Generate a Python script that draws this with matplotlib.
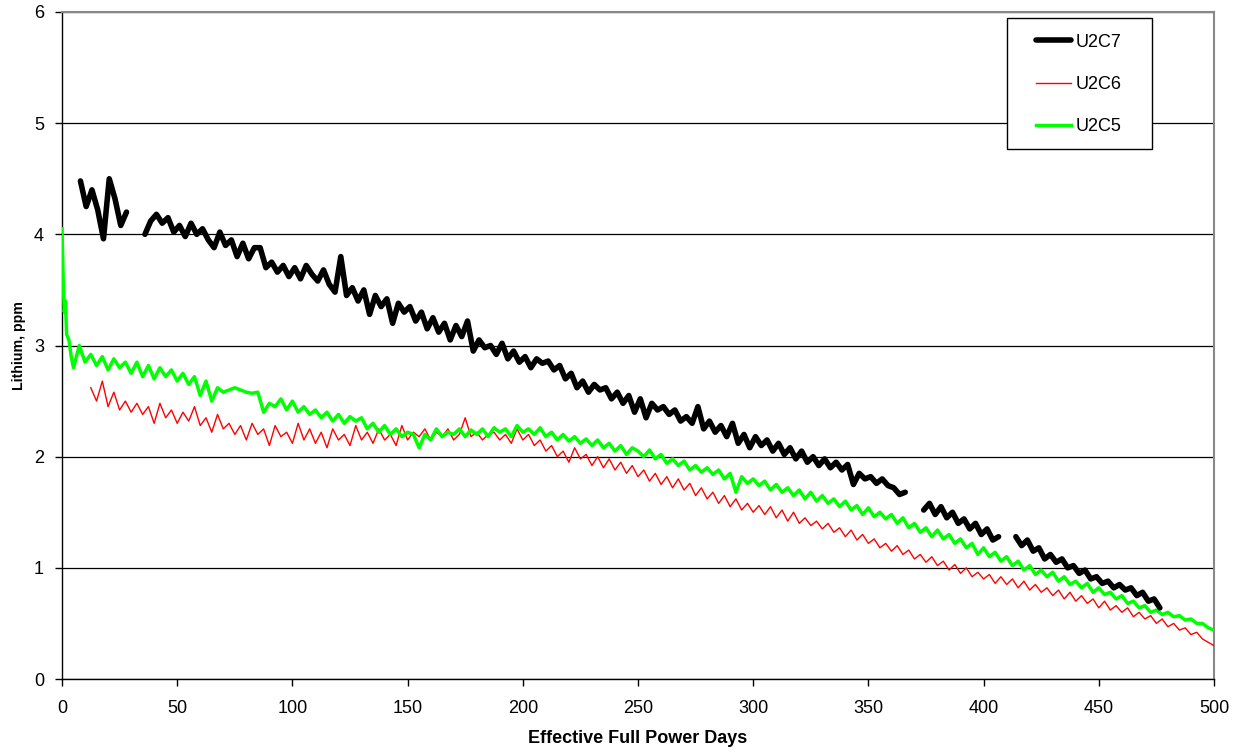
import numpy as np
import matplotlib
matplotlib.use("Agg")
import matplotlib.pyplot as plt
from matplotlib.lines import Line2D
from matplotlib.patches import Rectangle

plt.rcParams['font.family'] = ['Liberation Sans', 'DejaVu Sans']

# ---------------- data (Lithium, ppm vs EFPD) ----------------
STEP = 2.5

# U2C7 (four separate segments)
u2c7_seg1_start = 8.0
u2c7_seg1 = [4.48, 4.25, 4.40, 4.22, 3.96, 4.50, 4.32, 4.08, 4.20]

u2c7_seg2_start = 36.0
u2c7_seg2 = [
    4.00, 4.12, 4.18, 4.10, 4.15, 4.02, 4.08, 3.98, 4.10, 4.00,
    4.05, 3.95, 3.88, 4.02, 3.90, 3.95, 3.80, 3.92, 3.78, 3.88,
    3.88, 3.70, 3.75, 3.66, 3.72, 3.62, 3.70, 3.60, 3.72, 3.64,
    3.58, 3.68, 3.55, 3.48, 3.80, 3.45, 3.52, 3.40, 3.50, 3.28,
    3.45, 3.35, 3.42, 3.20, 3.38, 3.30, 3.35, 3.22, 3.30, 3.15,
    3.25, 3.12, 3.20, 3.05, 3.18, 3.08, 3.22, 2.95, 3.05, 2.98,
    3.00, 2.92, 3.02, 2.88, 2.95, 2.85, 2.90, 2.80, 2.88, 2.84,
    2.86, 2.78, 2.82, 2.70, 2.75, 2.62, 2.68, 2.58, 2.65, 2.60,
    2.62, 2.52, 2.58, 2.48, 2.55, 2.40, 2.52, 2.35, 2.48, 2.42,
    2.45, 2.38, 2.42, 2.32, 2.36, 2.30, 2.45, 2.25, 2.32, 2.22,
    2.28, 2.18, 2.30, 2.12, 2.20, 2.08, 2.18, 2.10, 2.15, 2.05,
    2.12, 2.02, 2.08, 1.98, 2.05, 1.95, 2.00, 1.92, 1.98, 1.90,
    1.95, 1.88, 1.93, 1.75, 1.85, 1.80, 1.82, 1.76, 1.80, 1.74,
    1.72, 1.66, 1.68,
]

u2c7_seg3_start = 374.0
u2c7_seg3 = [1.52, 1.58, 1.48, 1.55, 1.45, 1.50, 1.40, 1.44, 1.35, 1.40,
             1.30, 1.35, 1.25, 1.28]

u2c7_seg4_start = 414.0
u2c7_seg4 = [1.28, 1.20, 1.25, 1.15, 1.18, 1.08, 1.12, 1.05, 1.08, 1.00,
             1.02, 0.95, 0.98, 0.90, 0.92, 0.86, 0.88, 0.82, 0.85, 0.80,
             0.82, 0.75, 0.78, 0.70, 0.72, 0.64]

# U2C6
u2c6_start = 12.5
u2c6 = [
    2.62, 2.50, 2.68, 2.45, 2.58, 2.42, 2.50, 2.40, 2.48, 2.38,
    2.45, 2.30, 2.48, 2.35, 2.42, 2.30, 2.40, 2.32, 2.45, 2.28,
    2.35, 2.22, 2.38, 2.25, 2.30, 2.20, 2.28, 2.15, 2.30, 2.20,
    2.25, 2.10, 2.28, 2.18, 2.22, 2.12, 2.30, 2.15, 2.25, 2.12,
    2.22, 2.08, 2.25, 2.15, 2.20, 2.10, 2.28, 2.15, 2.22, 2.12,
    2.25, 2.15, 2.20, 2.10, 2.28, 2.15, 2.22, 2.18, 2.25, 2.15,
    2.22, 2.18, 2.25, 2.15, 2.20, 2.35, 2.18, 2.22, 2.15, 2.20,
    2.22, 2.15, 2.20, 2.12, 2.25, 2.15, 2.20, 2.10, 2.15, 2.05,
    2.10, 2.00, 2.05, 1.95, 2.08, 1.98, 2.02, 1.92, 2.00, 1.90,
    1.98, 1.88, 1.95, 1.85, 1.92, 1.82, 1.88, 1.78, 1.85, 1.75,
    1.82, 1.72, 1.80, 1.70, 1.76, 1.65, 1.72, 1.62, 1.68, 1.58,
    1.65, 1.55, 1.62, 1.52, 1.58, 1.50, 1.56, 1.48, 1.55, 1.45,
    1.52, 1.42, 1.50, 1.40, 1.45, 1.38, 1.42, 1.35, 1.40, 1.32,
    1.36, 1.28, 1.34, 1.25, 1.30, 1.22, 1.26, 1.18, 1.22, 1.15,
    1.20, 1.12, 1.16, 1.08, 1.12, 1.05, 1.10, 1.02, 1.06, 0.98,
    1.03, 0.95, 1.00, 0.92, 0.96, 0.90, 0.94, 0.86, 0.92, 0.85,
    0.90, 0.82, 0.88, 0.80, 0.85, 0.78, 0.82, 0.75, 0.80, 0.72,
    0.78, 0.70, 0.75, 0.68, 0.72, 0.64, 0.70, 0.62, 0.66, 0.60,
    0.64, 0.56, 0.60, 0.54, 0.57, 0.50, 0.54, 0.47, 0.50, 0.44,
    0.46, 0.40, 0.42, 0.36, 0.33, 0.30,
]

# U2C5
u2c5_early_x = [0.0, 0.5, 1.0, 1.5, 2.0, 3.0, 4.0]
u2c5_early = [4.05, 3.60, 3.30, 3.40, 3.10, 3.05, 2.90]
u2c5_start = 5.0
u2c5 = [
    2.80, 3.00, 2.85, 2.92, 2.82, 2.90, 2.78, 2.88, 2.80, 2.85,
    2.75, 2.85, 2.72, 2.82, 2.70, 2.80, 2.72, 2.78, 2.68, 2.75,
    2.65, 2.72, 2.55, 2.68, 2.50, 2.62, 2.58, 2.60, 2.62, 2.60,
    2.58, 2.57, 2.58, 2.40, 2.48, 2.45, 2.52, 2.42, 2.50, 2.40,
    2.45, 2.38, 2.42, 2.35, 2.40, 2.32, 2.38, 2.30, 2.36, 2.32,
    2.35, 2.25, 2.30, 2.22, 2.28, 2.20, 2.25, 2.18, 2.22, 2.20,
    2.08, 2.20, 2.15, 2.25, 2.18, 2.22, 2.20, 2.25, 2.18, 2.24,
    2.20, 2.25, 2.18, 2.26, 2.22, 2.25, 2.18, 2.28, 2.22, 2.25,
    2.20, 2.26, 2.18, 2.22, 2.15, 2.20, 2.14, 2.18, 2.12, 2.16,
    2.10, 2.15, 2.08, 2.12, 2.05, 2.10, 2.02, 2.08, 2.05, 2.00,
    2.06, 1.98, 2.02, 1.94, 1.98, 1.92, 1.96, 1.88, 1.92, 1.86,
    1.90, 1.84, 1.88, 1.80, 1.85, 1.68, 1.82, 1.76, 1.80, 1.74,
    1.78, 1.70, 1.75, 1.68, 1.72, 1.65, 1.70, 1.62, 1.68, 1.60,
    1.65, 1.58, 1.62, 1.55, 1.60, 1.52, 1.56, 1.48, 1.54, 1.46,
    1.50, 1.44, 1.48, 1.40, 1.45, 1.36, 1.40, 1.32, 1.36, 1.28,
    1.34, 1.26, 1.30, 1.22, 1.26, 1.18, 1.22, 1.12, 1.18, 1.10,
    1.14, 1.06, 1.10, 1.02, 1.06, 0.98, 1.02, 0.94, 0.98, 0.92,
    0.96, 0.88, 0.92, 0.85, 0.88, 0.82, 0.86, 0.78, 0.82, 0.76,
    0.78, 0.72, 0.75, 0.68, 0.70, 0.64, 0.66, 0.60, 0.62, 0.58,
    0.60, 0.56, 0.57, 0.53, 0.54, 0.50, 0.50, 0.46, 0.44,
]

x_ticks = [0, 50, 100, 150, 200, 250, 300, 350, 400, 450, 500]
y_ticks = [0, 1, 2, 3, 4, 5, 6]
series_names = ['U2C7', 'U2C6', 'U2C5']


def days(start, values):
    return start + STEP * np.arange(len(values))


# ---------------- figure ----------------
W, H = 1242, 754
fig = plt.figure(figsize=(W / 100, H / 100), dpi=100)
ax = fig.add_axes([62 / W, 1 - 679 / H, (1214 - 62) / W, (679 - 12) / H])

segs = [(u2c7_seg1_start, u2c7_seg1), (u2c7_seg2_start, u2c7_seg2),
        (u2c7_seg3_start, u2c7_seg3), (u2c7_seg4_start, u2c7_seg4)]
bx, by = [], []
for s, v in segs:
    bx.extend(days(s, v).tolist()); by.extend(v)
    bx.append(np.nan); by.append(np.nan)

gx = np.concatenate([u2c5_early_x, days(u2c5_start, u2c5)])
gy = np.concatenate([u2c5_early, u2c5])

ax.plot(days(u2c6_start, u2c6), u2c6, color='#ff0000', lw=1.0, zorder=3)
ax.plot(gx, gy, color='#00ff00', lw=2.5, zorder=4)
ax.plot(bx, by, color='black', lw=4.0, zorder=5, solid_capstyle='round',
        solid_joinstyle='round')

ax.set_xlim(0, 500)
ax.set_ylim(0, 6)
ax.set_xticks(x_ticks)
ax.set_yticks(y_ticks)
ax.tick_params(axis='both', labelsize=13, direction='out', length=5,
               width=1, color='black')
ax.tick_params(axis='x', pad=10)
ax.tick_params(axis='y', pad=8)
ax.yaxis.grid(True, color='black', lw=0.9)
ax.set_axisbelow(True)

for side in ['left', 'bottom']:
    ax.spines[side].set_color('black')
    ax.spines[side].set_linewidth(1.0)
for side in ['top', 'right']:
    ax.spines[side].set_color('#888888')
    ax.spines[side].set_linewidth(1.5)

ax.set_xlabel('Effective Full Power Days', fontsize=13, fontweight='bold')
ax.xaxis.set_label_coords(0.5, (679 - 730) / (679 - 12))
ax.set_ylabel('Lithium, ppm', fontsize=10.2, fontweight='bold')
ax.yaxis.set_label_coords((26 - 62) / (1214 - 62), 0.5)

# legend box
fig.patches.append(Rectangle((1007 / W, 1 - 149 / H), (1152 - 1007) / W,
                             (149 - 18) / H, transform=fig.transFigure,
                             facecolor='white', edgecolor='black', lw=1.0,
                             zorder=9))
handles = [Line2D([], [], color='black', lw=4.0, solid_capstyle='round'),
           Line2D([], [], color='#ff0000', lw=1.0),
           Line2D([], [], color='#00ff00', lw=2.5)]
leg = fig.legend(handles, series_names, loc='center',
                 bbox_to_anchor=(1079 / W, 1 - 84.5 / H), fontsize=13,
                 frameon=False, labelspacing=1.4, handlelength=1.95,
                 handletextpad=0.25, borderpad=0, borderaxespad=0)
leg.set_zorder(10)

fig.savefig('out.png', dpi=100, facecolor='white')
